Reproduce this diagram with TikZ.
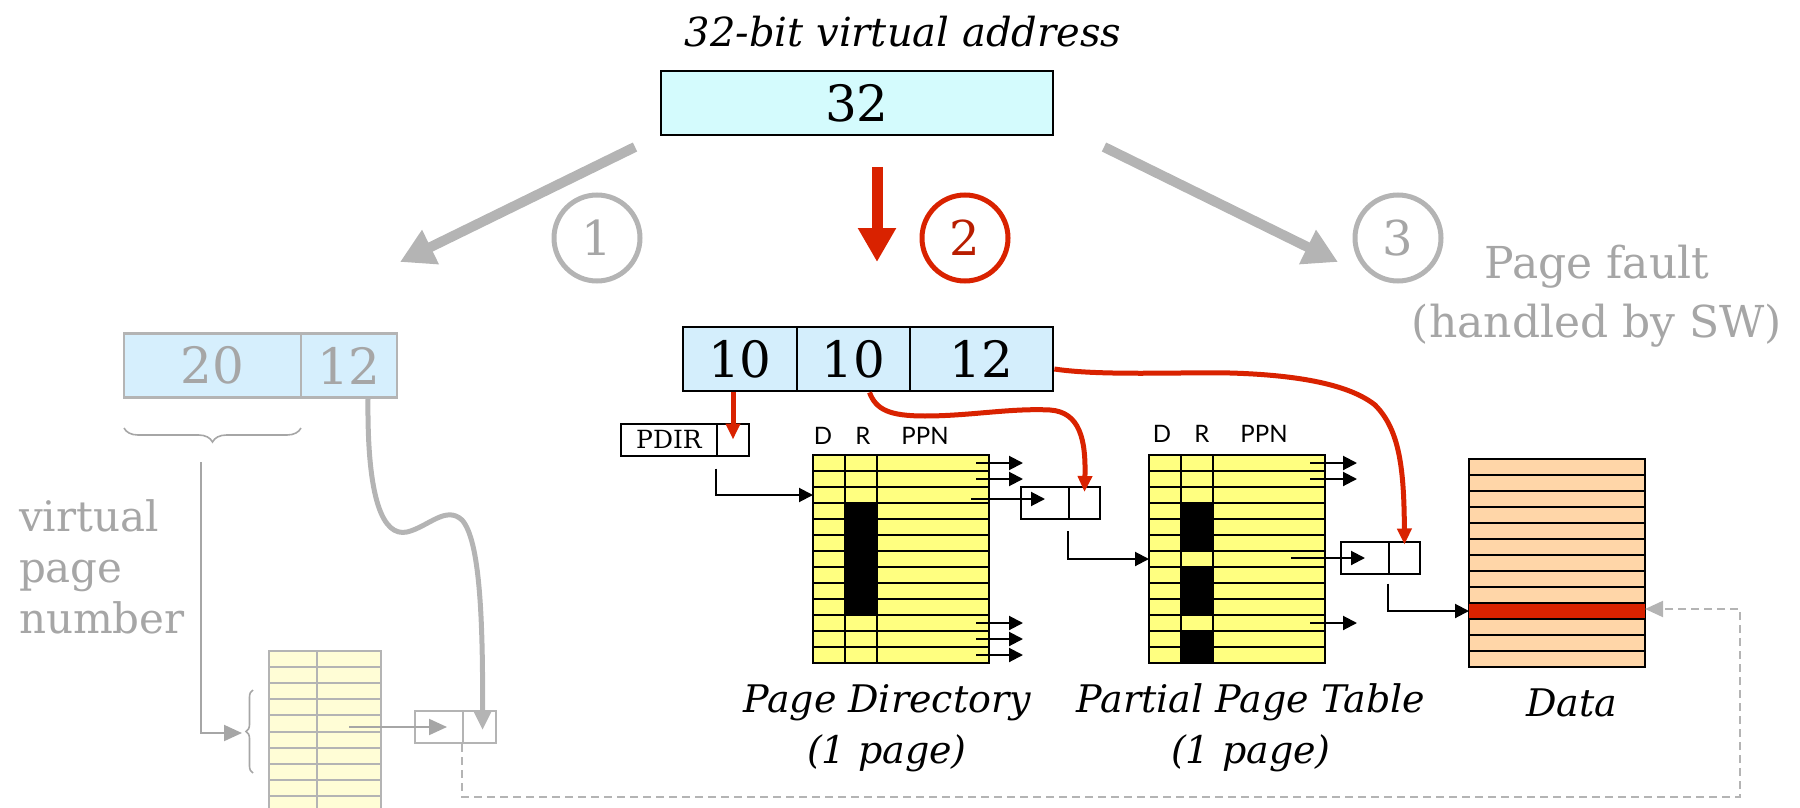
\documentclass[tikz,border=0pt]{standalone}
\usepackage{fontspec}
\setmainfont{DejaVu Serif}
\newfontfamily\hdrfont{Lato}
\usetikzlibrary{arrows.meta,decorations.pathreplacing}

\definecolor{vaCyan}{RGB}{212,251,253}
\definecolor{vaBlue}{RGB}{212,238,252}
\definecolor{vaLight}{RGB}{214,239,253}
\definecolor{fadeGray}{RGB}{180,180,180}
\definecolor{textGray}{RGB}{166,166,166}
\definecolor{walkRed}{RGB}{217,34,0}
\definecolor{ptYellow}{RGB}{255,255,128}
\definecolor{paleYellow}{RGB}{255,253,214}
\definecolor{dataPeach}{RGB}{255,214,168}

\tikzset{
  cellbox/.style={draw, inner sep=0pt, line width=1.4pt, minimum height=32pt,
    font=\fontsize{25}{28}\selectfont},
  slot/.style={draw, inner sep=0pt, line width=1pt, minimum height=16pt},
  stepmark/.style={circle, inner sep=0pt, minimum size=43pt, line width=2.5pt,
    font=\fontsize{24}{26}\selectfont},
  hdr/.style={font=\hdrfont\fontsize{12}{14}\selectfont},
  caption/.style={align=center, font=\itshape\fontsize{19}{25.5}\selectfont},
  ptr/.style={line width=1pt, -{Triangle[length=7pt,width=7pt]}},
  redptr/.style={walkRed, line width=2.5pt, -{Triangle[length=8pt,width=7pt]}},
  fadeway/.style={fadeGray, line width=5pt, -{Triangle[length=17pt,width=18pt]}}
}

\begin{document}
\begin{tikzpicture}[x=0.5pt,y=-0.5pt]
    \useasboundingbox (0,0) rectangle (1800,808);

    % Virtual address
    \node[font=\itshape\fontsize{20}{24}\selectfont] (title) at (903,32) {32-bit virtual address};
    \node[cellbox, fill=vaCyan, minimum width=196pt] (va) at (857,103) {32};

    % Three ways
    \coordinate (wayL) at (635,147);
    \coordinate (wayLend) at (400,262);
    \coordinate (wayM) at (877,167);
    \coordinate (wayMend) at (877,262);
    \coordinate (wayR) at (1104,147);
    \coordinate (wayRend) at (1338,262);
    \draw[fadeway] (wayL) -- (wayLend);
    \draw[walkRed, line width=5.5pt, -{Triangle[length=17pt,width=18pt]}] (wayM) -- (wayMend);
    \draw[fadeway] (wayR) -- (wayRend);
    \node[stepmark, draw=fadeGray, text=textGray] (one) at (597,238) {1};
    \node[stepmark, draw=walkRed, text=walkRed!85!black] (two) at (965,238) {2};
    \node[stepmark, draw=fadeGray, text=textGray] (three) at (1398,238) {3};
    \node[align=center, text=textGray, font=\fontsize{22}{29.5}\selectfont] (fault) at (1597,296) {Page fault\\(handled by SW)};

    % Way 1: TLB lookup (faded)
    \node[cellbox, draw=fadeGray, fill=vaLight, text=textGray, minimum width=88.5pt] (vl20) at (212.5,365.5) {20};
    \node[cellbox, draw=fadeGray, fill=vaLight, text=textGray, minimum width=48pt] (vl12) at (349,365.5) {12};
    \draw[textGray, line width=0.8pt, decorate, decoration={brace, amplitude=7pt}] (301,428) -- (124,428);
    \node[anchor=west, align=left, text=textGray, font=\fontsize{21}{25.5}\selectfont] (vpn) at (12,567) {virtual\\page\\number};
    \node[draw=fadeGray, fill=paleYellow, line width=1pt, inner sep=0pt, minimum width=56pt, minimum height=90pt] (lt) at (325,741) {};
    \foreach \r in {1,...,10} {
        \draw[fadeGray, line width=1pt] (269,{651+16.1*\r}) -- (381,{651+16.1*\r});
    }
    \draw[fadeGray, line width=1pt] (317,651) -- (317,808);
    \draw[textGray, line width=0.8pt, decorate, decoration={brace, amplitude=3.5pt}] (253,773) -- (253,690);
    \node[slot, draw=fadeGray, minimum width=24pt] (lbA) at (439,727) {};
    \node[slot, draw=fadeGray, minimum width=16.5pt] (lbB) at (479.5,727) {};
    \coordinate (vpnTop) at (201,462);
    \coordinate (ltIn) at (242,733);
    \coordinate (ltRow) at (349,727);
    \draw[textGray, line width=1pt, -{Triangle[length=9pt,width=8pt]}] (vpnTop) |- (ltIn);
    \draw[textGray, line width=1pt, -{Triangle[length=9pt,width=8pt]}] (ltRow) -- ([xshift=4pt]lbA.center);
    \draw[fadeGray, line width=2.5pt, -{Triangle[length=9pt,width=8pt]}]
        ([xshift=9.5pt]vl12.south) .. controls (367,500) and (383,537) .. (407,532)
        .. controls (428,527) and (446,505) .. (462,520)
        .. controls (480,540) and (483,620) .. ([xshift=1.5pt,yshift=-10pt]lbB.north);

    % Way 2: page walk
    \node[cellbox, fill=vaBlue, minimum width=57pt] (vaTen1) at (740,359) {10};
    \node[cellbox, fill=vaBlue, minimum width=56.5pt] (vaTen2) at (853.5,359) {10};
    \node[cellbox, fill=vaBlue, minimum width=71.5pt] (vaTwelve) at (981.5,359) {12};

    \node[slot, minimum width=48pt, font=\fontsize{12.5}{14}\selectfont] (pdirA) at (669,439.5) {PDIR};
    \node[slot, minimum width=16pt] (pdirB) at (733,439.5) {};
    \draw[redptr] (pdirB.center |- vaTen1.south) -- (pdirB.center);

    % Page directory
    \node[hdr] (pdD) at (823,436) {D};
    \node[hdr] (pdR) at (863,436) {R};
    \node[hdr] (pdPPN) at (925,436) {PPN};
    \node[draw, fill=ptYellow, line width=1.2pt, inner sep=0pt, minimum width=88pt, minimum height=104pt] (pd) at (901,559) {};
    \fill (845,503) rectangle (877,615);
    \foreach \r in {1,...,12} {
        \draw[line width=1pt] (813,{455+16*\r}) -- (989,{455+16*\r});
    }
    \draw[line width=1pt] (845,455) -- (845,663) (877,455) -- (877,663);
    \foreach \r in {0,1,10,11,12} {
        \draw[ptr] (976,{463+16*\r}) -- ++(47,0);
    }
    \node[caption] (pdCap) at (887,728) {Page Directory\\(1 page)};

    \node[slot, minimum width=24pt] (pdbA) at (1045,503) {};
    \node[slot, minimum width=15.5pt] (pdbB) at (1084.5,503) {};
    \coordinate (pdIn) at (813,495);
    \coordinate (pdRow) at (971,499);
    \draw[ptr] ([yshift=-6pt]pdirB.south west) |- (pdIn);
    \draw[ptr] (pdRow) -- (pdbA.center |- pdRow);
    \draw[redptr] ([xshift=8pt]vaTen2.south) .. controls (876,410) and (890,416) .. (925,416)
        .. controls (970,416) and (1010,408) .. (1050,410)
        .. controls (1080,412) and (1086,440) .. ([yshift=-3pt]pdbB.north);

    % Partial page table
    \node[hdr] (ptD) at (1162,434) {D};
    \node[hdr] (ptR) at (1202,434) {R};
    \node[hdr] (ptPPN) at (1264,434) {PPN};
    \node[draw, fill=ptYellow, line width=1.2pt, inner sep=0pt, minimum width=88pt, minimum height=104pt] (pt) at (1237,559) {};
    \fill (1181,503) rectangle (1213,551);
    \fill (1181,567) rectangle (1213,615);
    \fill (1181,631) rectangle (1213,663);
    \foreach \r in {1,...,12} {
        \draw[line width=1pt] (1149,{455+16*\r}) -- (1325,{455+16*\r});
    }
    \draw[line width=1pt] (1181,455) -- (1181,663) (1213,455) -- (1213,663);
    \foreach \r in {0,1,10} {
        \draw[ptr] (1310,{463+16*\r}) -- ++(47,0);
    }
    \node[caption] (ptCap) at (1251,728) {Partial Page Table\\(1 page)};

    \node[slot, minimum width=24pt] (ptbA) at (1365,557.5) {};
    \node[slot, minimum width=15.5pt] (ptbB) at (1404.5,557.5) {};
    \coordinate (ptIn) at (1149,559);
    \coordinate (ptRow) at (1291,558);
    \draw[ptr] ([yshift=-5.5pt]pdbB.south west) |- (ptIn);
    \draw[ptr] (ptRow) -- (ptbA.center |- ptRow);
    \draw[redptr] ([yshift=-5pt]vaTwelve.east) .. controls (1100,376) and (1180,372) .. (1230,373)
        .. controls (1300,375) and (1350,385) .. (1375,405)
        .. controls (1400,430) and (1404,470) .. ([yshift=-2pt]ptbB.north);

    % Data page
    \node[draw, fill=dataPeach, line width=1.2pt, inner sep=0pt, minimum width=88pt, minimum height=104pt] (data) at (1557,563) {};
    \fill[walkRed] (1469,603) rectangle (1645,619);
    \foreach \r in {1,...,12} {
        \draw[line width=1pt] (1469,{459+16*\r}) -- (1645,{459+16*\r});
    }
    \node[caption] (dataCap) at (1572,703) {Data};
    \coordinate (dataIn) at (1469,611);
    \coordinate (dataOut) at (1645,609);
    \coordinate (faultLoop) at (1740,797);
    \draw[ptr] ([yshift=-4.5pt]ptbB.south west) |- (dataIn);

    % Way 1 hit goes to data too
    \draw[fadeGray, line width=1pt, dash pattern=on 4pt off 2.5pt, -{Triangle[length=9pt,width=8pt]}]
        (lbB.south west) |- (faultLoop) |- (dataOut);
\end{tikzpicture}
\end{document}
